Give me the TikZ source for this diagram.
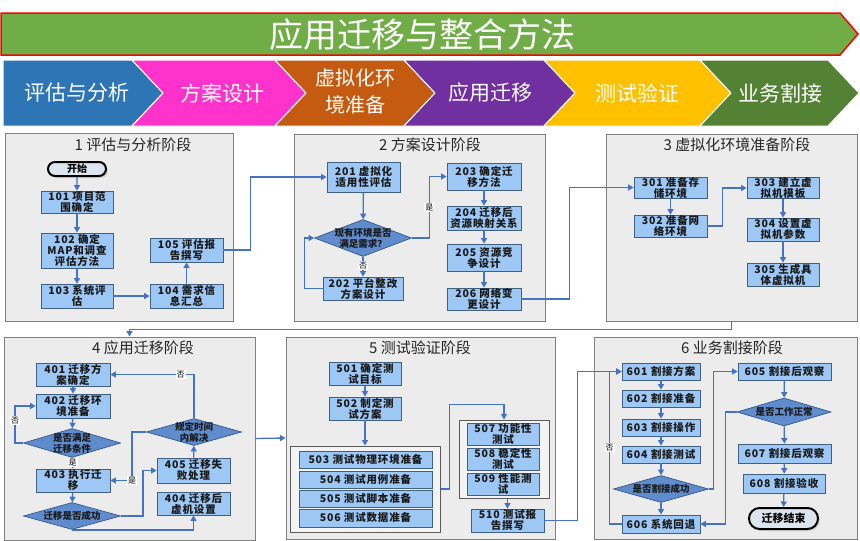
\documentclass[tikz,border=0pt]{standalone}
\usepackage{fontspec}
\setmainfont{Noto Sans CJK SC}
\usetikzlibrary{shapes.geometric,shapes.misc,arrows.meta,calc,shadows}

\definecolor{nodefill}{HTML}{9DC8F5}
\definecolor{nodeline}{HTML}{41607F}
\definecolor{diafill}{HTML}{5F8CCD}
\definecolor{dialine}{HTML}{3D5F8F}
\definecolor{arrowc}{HTML}{4472C4}
\definecolor{panelfill}{HTML}{ECECEC}
\definecolor{panelline}{HTML}{808080}
\definecolor{groupfill}{HTML}{F4F4F4}
\definecolor{groupline}{HTML}{5A5A5A}
\definecolor{termfill}{HTML}{DCE4EE}
\definecolor{bannerfill}{HTML}{70AD47}
\definecolor{cA}{HTML}{2E75B6}
\definecolor{cB}{HTML}{FF33CC}
\definecolor{cC}{HTML}{C55A11}
\definecolor{cD}{HTML}{7030A0}
\definecolor{cE}{HTML}{FFC000}
\definecolor{cF}{HTML}{548235}

\tikzset{
  wh/.style 2 args={minimum width=#1pt, minimum height=#2pt},
  box/.style={draw=nodeline, fill=nodefill, line width=0.8pt, inner sep=0pt,
    align=center, font=\bfseries\fontsize{10.5}{11}\selectfont\addfontfeature{LetterSpace=8}, text=black!90},
  dia/.style={diamond, draw=dialine, fill=diafill, line width=0.8pt, inner sep=0pt},
  dtext/.style={align=center, font=\bfseries\fontsize{9.5}{11}\selectfont, text=black!90, inner sep=0pt},
  panel/.style={draw=panelline, fill=panelfill, line width=1pt, inner sep=0pt},
  grp/.style={draw=groupline, fill=groupfill, line width=1pt, inner sep=0pt},
  term/.style={rounded rectangle, draw=black, line width=2pt, fill=termfill, inner sep=0pt,
    font=\bfseries\fontsize{10}{11}\selectfont,
    drop shadow={shadow xshift=2pt, shadow yshift=-2pt, fill=black!25}},
  arr/.style={draw=arrowc, line width=1.3pt, -{Triangle[length=5.5pt,width=6pt]}},
  lbl/.style={fill=white, inner sep=1pt, font=\fontsize{8}{9}\selectfont, text=black},
  ptitle/.style={font=\fontsize{15}{16}\selectfont, text=black!85, inner sep=0pt},
  chevtext/.style={font=\fontsize{21}{26}\selectfont, text=white, align=center, inner sep=0pt},
  chev/.style={draw=white, line width=1pt}
}

\begin{document}
\begin{tikzpicture}[x=1pt, y=-1pt]
\useasboundingbox (0,0) rectangle (860,541);
\fill[white] (0,0) rectangle (860,541);

% banner
\draw[fill=bannerfill, draw=red, line width=1.5pt] (1,13) -- (840,13) -- (858,34) -- (840,55) -- (1,55) -- cycle;
\node[font=\fontsize{34}{40}\selectfont, text=white, inner sep=0pt] (title) at (422,35) {应用迁移与整合方法};

% chevrons
\fill[cA, chev] (3,60) -- (132,60) -- (163,93) -- (132,126) -- (3,126) -- cycle;
\fill[cB, chev] (132,60) -- (275,60) -- (306,93) -- (275,126) -- (132,126) -- (163,93) -- cycle;
\fill[cC, chev] (275,60) -- (404,60) -- (435,93) -- (404,126) -- (275,126) -- (306,93) -- cycle;
\fill[cD, chev] (404,60) -- (544,60) -- (575,93) -- (544,126) -- (404,126) -- (435,93) -- cycle;
\fill[cE, chev] (544,60) -- (700,60) -- (731,93) -- (700,126) -- (544,126) -- (575,93) -- cycle;
\fill[cF, chev] (700,60) -- (828,60) -- (859,93) -- (828,126) -- (700,126) -- (731,93) -- cycle;
\node[chevtext] (ch1) at (77,93) {评估与分析};
\node[chevtext] (ch2) at (222,93) {方案设计};
\node[chevtext, font=\fontsize{20}{27}\selectfont] (ch3) at (355,91) {虚拟化环\\境准备};
\node[chevtext] (ch4) at (490,93) {应用迁移};
\node[chevtext] (ch5) at (637,93) {测试验证};
\node[chevtext] (ch6) at (780,93) {业务割接};

% panels
\node[panel, wh={228}{188}] (P1) at (119,227) {};
\node[panel, wh={251}{187}] (P2) at (419.5,227.5) {};
\node[panel, wh={251}{187}] (P3) at (731.5,227.5) {};
\node[panel, wh={251}{203}] (P4) at (129.5,438.5) {};
\node[panel, wh={269}{202}] (P5) at (420.5,438) {};
\node[panel, wh={263}{202}] (P6) at (725.5,438) {};
\node[ptitle] (t1) at (133,145) {1 评估与分析阶段};
\node[ptitle] (t2) at (430,145) {2 方案设计阶段};
\node[ptitle] (t3) at (737,145) {3 虚拟化环境准备阶段};
\node[ptitle] (t4) at (143,348) {4 应用迁移阶段};
\node[ptitle] (t5) at (420,348) {5 测试验证阶段};
\node[ptitle] (t6) at (732,348) {6 业务割接阶段};

% panel 1
\node[term, wh={58}{14}] (start) at (77,169) {开始};
\node[box, wh={72}{22}] (n101) at (77,202) {101 项目范\\围确定};
\node[box, wh={72}{35}] (n102) at (77,250.5) {102 确定\\MAP和调查\\评估方法};
\node[box, wh={72}{24}] (n103) at (77,296) {103 系统评\\估};
\node[box, wh={73}{24}] (n104) at (186.5,296) {104 需求信\\息汇总};
\node[box, wh={73}{24}] (n105) at (186.5,250) {105 评估报\\告撰写};

% panel 2
\node[box, wh={73}{30}] (n201) at (363.5,177) {201 虚拟化\\适用性评估};
\node[dia, wh={97}{37}, label={[dtext]center:{现有环境是否\\满足需求？}}] (d2) at (363,238) {};
\node[box, wh={80}{23}] (n202) at (363,288.5) {202 平台整改\\方案设计};
\node[box, wh={74}{27}] (n203) at (484,176.5) {203 确定迁\\移方法};
\node[box, wh={74}{24}] (n204) at (484,218) {204 迁移后\\资源映射关系};
\node[box, wh={74}{27}] (n205) at (484,257.5) {205 资源竞\\争设计};
\node[box, wh={74}{22}] (n206) at (484,299) {206 网络变\\更设计};

% panel 3
\node[box, wh={73}{21}] (n301) at (670.5,187.5) {301 准备存\\储环境};
\node[box, wh={73}{22}] (n302) at (670.5,226) {302 准备网\\络环境};
\node[box, wh={72}{20}] (n303) at (783,188) {303 建立虚\\拟机模板};
\node[box, wh={72}{23}] (n304) at (783,229.5) {304 设置虚\\拟机参数};
\node[box, wh={72}{23}] (n305) at (783,274.5) {305 生成具\\体虚拟机};

% panel 4
\node[box, wh={74}{23}] (n401) at (73,374.5) {401 迁移方\\案确定};
\node[box, wh={74}{24}] (n402) at (73,406) {402 迁移环\\境准备};
\node[dia, wh={97}{29}, label={[dtext]center:{是否满足\\迁移条件}}] (d41) at (72,443) {};
\node[box, wh={74}{23}] (n403) at (73,480.5) {403 执行迁\\移};
\node[dia, wh={97}{27}, label={[dtext]center:{迁移是否成功}}] (d42) at (72,516) {};
\node[box, wh={73}{23}] (n404) at (193.5,503.5) {404 迁移后\\虚机设置};
\node[box, wh={73}{25}] (n405) at (193.5,470.5) {405 迁移失\\败处理};
\node[dia, wh={95}{27}, label={[dtext]center:{规定时间\\内解决}}] (d43) at (194,432) {};

% panel 5
\node[box, wh={72}{23}] (n501) at (365,373.5) {501 确定测\\试目标};
\node[box, wh={72}{23}] (n502) at (365,408.5) {502 制定测\\试方案};
\node[grp, wh={150}{86}] (gA) at (365,489) {};
\node[box, wh={133}{17}] (n503) at (365.5,459.5) {503 测试物理环境准备};
\node[box, wh={133}{17}] (n504) at (365.5,479.5) {504 测试用例准备};
\node[box, wh={133}{17}] (n505) at (365.5,498.5) {505 测试脚本准备};
\node[box, wh={133}{18}] (n506) at (365.5,518) {506 测试数据准备};
\node[grp, wh={90}{78}] (gB) at (504,459) {};
\node[box, wh={72}{22}] (n507) at (503,434) {507 功能性\\测试};
\node[box, wh={72}{22}] (n508) at (503,459) {508 稳定性\\测试};
\node[box, wh={72}{22}] (n509) at (503,484) {509 性能测\\试};
\node[box, wh={73}{23}] (n510) at (507.5,520.5) {510 测试报\\告撰写};

% panel 6
\node[box, wh={78}{17}] (n601) at (661,371.5) {601 割接方案};
\node[box, wh={78}{17}] (n602) at (661,398.5) {602 割接准备};
\node[box, wh={78}{17}] (n603) at (661,427.5) {603 割接操作};
\node[box, wh={78}{17}] (n604) at (661,454.5) {604 割接测试};
\node[dia, wh={95}{27}, label={[dtext]center:{是否割接成功}}] (d61) at (661,489) {};
\node[box, wh={78}{18}] (n606) at (661,524) {606 系统回退};
\node[box, wh={93}{17}] (n605) at (784.5,371.5) {605 割接后观察};
\node[dia, wh={94}{28}, label={[dtext]center:{是否工作正常}}] (d62) at (784,412) {};
\node[box, wh={93}{19}] (n607) at (784.5,453.5) {607 割接后观察};
\node[box, wh={82}{19}] (n608) at (784,483.5) {608 割接验收};
\node[term, wh={69}{21}, font=\bfseries\fontsize{11}{12}\selectfont] (end) at (783.5,518.5) {迁移结束};

% ---- connectors panel 1
\draw[arr] (start) -- (n101);
\draw[arr] (n101) -- (n102);
\draw[arr] (n102) -- (n103);
\draw[arr] (n103) -- (n104);
\draw[arr] (n104) -- (n105);
\draw[arr] (n105.east) -- ++(27,0) |- (n201.west);
% panel 2
\draw[arr] (n201) -- (d2);
\draw[arr] (d2) -- (n202) node[lbl, pos=0.45] {否};
\draw[arr] (n202.west) -- ++(-18,0) |- (d2.west);
\draw[arr] (d2.east) -- ++(17.5,0) |- (n203.west) node[lbl, pos=0.25] {是};
\draw[arr] (n203) -- (n204);
\draw[arr] (n204) -- (n205);
\draw[arr] (n205) -- (n206);
\draw[arr] (n206.east) -- ++(48,0) |- (n301.west);
% panel 3
\draw[arr] (n301) -- (n302);
\draw[arr] (n302.east) -- ++(15,0) |- (n303.west);
\draw[arr] (n303) -- (n304);
\draw[arr] (n304) -- (n305);
\draw[arr] (P3.south) -- ++(0,8) -| (P4.north);
% panel 4
\draw[arr] (n401) -- (n402);
\draw[arr] (n402) -- (d41);
\draw[arr] (d41) -- (n403) node[lbl, pos=0.45] {是};
\draw[arr] (d41.west) -- ++(-8,0) |- (n402.west) node[lbl, pos=0.3] {否};
\draw[arr] (n403) -- (d42);
\draw[arr] (d42.east) -- ++(22,0) |- (n405.west);
\draw[arr] (d42.south) -| (n404.south);
\draw[arr] (n405) -- (d43);
\draw[arr] (d43.north) |- (n401.east) node[lbl, pos=0.58] {否};
\draw[arr] (d43.west) -- ++(-14,0) |- (n403.east) node[lbl, pos=0.5] {是};
\draw[arr] (P4.east) -- (P5.west);
% panel 5
\draw[arr] (n501) -- (n502);
\draw[arr] (n502) -- (gA);
\draw[arr] (gA.east) -- ++(9,0) |- ($(gB.north)+(0,-15)$) -- (gB.north);
\draw[arr] (gB.south -| n510.north) -- (n510.north);
\draw[arr] (n510.east) -- ++(33,0) |- (n601.west);
% panel 6
\draw[arr] (n601) -- (n602);
\draw[arr] (n602) -- (n603);
\draw[arr] (n603) -- (n604);
\draw[arr] (n604) -- (d61);
\draw[arr] (d61) -- (n606);
\draw[arr] (n606.west) -- ++(-12,0) |- (n601.west) node[lbl, pos=0.25] {否};
\draw[arr] (d61.east) -- ++(4.5,0) |- (n605.west);
\draw[arr] (n605) -- (d62);
\draw[arr] (d62) -- (n607);
\draw[arr] (n607) -- (n608);
\draw[arr] (n608) -- (end);
\draw[arr] (d62.west) -- ++(-11,0) |- (n606.east);
\end{tikzpicture}
\end{document}
